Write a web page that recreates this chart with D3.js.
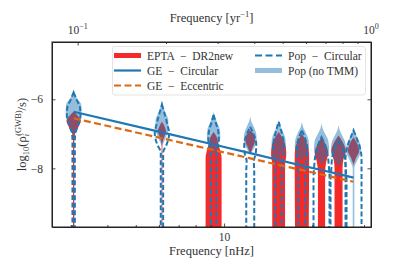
<!DOCTYPE html>
<html>
<head>
<meta charset="utf-8">
<script src="https://cdn.jsdelivr.net/npm/d3@7"></script>
<style>
  body { margin: 0; background: #fff; }
  svg { display: block; font-family: "Liberation Serif", "DejaVu Serif", serif; }
  .axis path { stroke: #222; stroke-width: 1; }
  .axis line { stroke: #222; stroke-width: 0.8; }
  .axis text { font-size: 11.5px; fill: #333; font-family: "Liberation Serif", serif; }
</style>
</head>
<body>
<div id="chart"></div>
<script>
var svgWidth = 393;
var svgHeight = 271;

var margin = { top: 42, right: 22, bottom: 44, left: 52 };
var width = svgWidth - margin.left - margin.right;
var height = svgHeight - margin.top - margin.bottom;

// frequency bins (nHz), i / T with T ~ 10.3 yr
var freqs = [3.07, 6.14, 9.21, 12.28, 15.35, 18.42, 21.49, 24.56, 27.63];

// GE model lines, log10(rho/s) at each bin
var geCircular = [-6.36, -6.96, -7.31, -7.56, -7.76, -7.92, -8.05, -8.17, -8.27];
var geEccentric = [-6.55, -7.13, -7.47, -7.71, -7.90, -8.05, -8.18, -8.29, -8.39];

// violin profiles: [log10 rho, relative half width]
var eptaViolins = [
  [[-6.35, 0], [-6.5, 0.6], [-6.62, 0.9], [-6.8, 0.6], [-7.05, 0.12], [-7.3, 0.08], [-9.9, 0.08]],
  [[-6.65, 0], [-6.8, 0.35], [-6.92, 0.5], [-7.05, 0.35], [-7.3, 0.05], [-9.9, 0.05]],
  [[-6.95, 0], [-7.1, 0.4], [-7.3, 0.6], [-7.5, 0.85], [-7.7, 1.0], [-9.9, 1.0]],
  [[-6.9, 0], [-7.05, 0.5], [-7.2, 0.6], [-7.4, 0.3], [-7.6, 0]],
  [[-6.95, 0], [-7.15, 0.55], [-7.4, 0.9], [-7.6, 0.95], [-7.9, 0.8], [-9.9, 0.8]],
  [[-7.0, 0], [-7.2, 0.5], [-7.45, 0.85], [-7.7, 0.9], [-9.9, 0.85]],
  [[-7.1, 0], [-7.3, 0.5], [-7.55, 0.85], [-7.8, 0.6], [-8.1, 0.45], [-9.9, 0.45]],
  [[-7.05, 0], [-7.25, 0.55], [-7.5, 0.9], [-7.75, 0.6], [-8.0, 0.5], [-9.9, 0.5]],
  [[-7.1, 0], [-7.3, 0.5], [-7.5, 0.7], [-7.7, 0.3], [-7.9, 0]]
];

var noTmmViolins = [
  [[-5.72, 0], [-5.85, 0.15], [-6.0, 0.5], [-6.15, 0.95], [-6.4, 1.0], [-6.65, 0.7], [-6.9, 0.3], [-7.1, 0]],
  [[-6.05, 0], [-6.2, 0.15], [-6.4, 0.45], [-6.6, 0.8], [-6.85, 0.8], [-7.1, 0.5], [-7.35, 0]],
  [[-6.35, 0], [-6.5, 0.15], [-6.65, 0.4], [-6.85, 0.75], [-7.1, 0.85], [-7.35, 0.5], [-7.6, 0]],
  [[-6.5, 0], [-6.65, 0.15], [-6.8, 0.45], [-7.0, 0.75], [-7.2, 0.8], [-7.45, 0.4], [-7.6, 0]],
  [[-6.6, 0], [-6.75, 0.15], [-6.9, 0.45], [-7.1, 0.8], [-7.3, 0.9], [-7.55, 0.5], [-7.75, 0]],
  [[-6.65, 0], [-6.8, 0.15], [-6.95, 0.45], [-7.15, 0.8], [-7.35, 0.9], [-7.6, 0.5], [-7.8, 0]],
  [[-6.7, 0], [-6.85, 0.15], [-7.0, 0.45], [-7.2, 0.85], [-7.45, 0.95], [-7.7, 0.55], [-7.9, 0]],
  [[-6.75, 0], [-6.9, 0.15], [-7.05, 0.45], [-7.25, 0.85], [-7.5, 0.95], [-7.75, 0.55], [-7.95, 0]],
  [[-6.8, 0], [-6.95, 0.15], [-7.1, 0.45], [-7.3, 0.85], [-7.5, 0.95], [-7.75, 0.5], [-8.0, 0.1], [-9.9, 0.1]]
];

var popViolins = [
  [[-5.8, 0], [-6.0, 0.35], [-6.25, 0.8], [-6.5, 0.85], [-6.75, 0.55], [-7.0, 0.2], [-7.2, 0.15], [-9.9, 0.15]],
  [[-6.15, 0], [-6.4, 0.3], [-6.7, 0.65], [-7.0, 0.9], [-7.3, 0.6], [-7.55, 0.15], [-9.9, 0.15]],
  [[-6.45, 0], [-6.7, 0.3], [-6.95, 0.6], [-7.2, 0.65], [-7.5, 0.4], [-7.8, 0.35], [-9.9, 0.35]],
  [[-6.8, 0], [-7.0, 0.4], [-7.3, 0.75], [-7.55, 0.7], [-7.8, 0.45], [-8.1, 0.5], [-9.9, 0.5]],
  [[-6.65, 0], [-6.9, 0.3], [-7.2, 0.6], [-7.5, 0.7], [-7.8, 0.45], [-8.1, 0.4], [-9.9, 0.4]],
  [[-6.9, 0], [-7.1, 0.35], [-7.4, 0.65], [-7.7, 0.6], [-8.0, 0.45], [-9.9, 0.45]],
  [[-7.1, 0], [-7.3, 0.4], [-7.6, 0.75], [-7.9, 0.9], [-8.3, 1.0], [-9.9, 1.0]],
  [[-7.2, 0], [-7.4, 0.45], [-7.7, 0.8], [-8.0, 0.9], [-8.4, 1.0], [-9.9, 1.0]],
  [[-6.9, 0], [-7.1, 0.35], [-7.4, 0.8], [-7.7, 1.0], [-8.1, 1.0], [-9.9, 1.0]]
];

var bottomTicks = [3, 4, 5, 6, 7, 8, 9, 10, 20, 30];
var topTicks = [0.1, 0.2, 0.3, 0.4, 0.5, 0.6, 0.7, 0.8, 0.9, 1];
var yTicks = [-8, -6];

var svg = d3.select("#chart")
  .append("svg")
  .attr("width", svgWidth)
  .attr("height", svgHeight);

var chartGroup = svg.append("g")
  .attr("transform", `translate(${margin.left}, ${margin.top})`);

var xScale = d3.scaleLog()
  .domain([2.59, 31.69])
  .range([0, width]);

// 1 yr^-1 = 31.69 nHz
var xTopScale = d3.scaleLog()
  .domain([2.59 / 31.69, 1])
  .range([0, width]);

var yScale = d3.scaleLinear()
  .domain([-9.7, -4.34])
  .range([height, 0]);

var wScale = d3.scaleLinear().domain([0, 1]).range([0, 8]);

chartGroup.append("clipPath")
  .attr("id", "clip")
  .append("rect")
  .attr("width", width)
  .attr("height", height);

var plot = chartGroup.append("g").attr("clip-path", "url(#clip)");

function violinArea(cx) {
  return d3.area()
    .y(d => yScale(d[0]))
    .x0(d => cx - wScale(d[1]))
    .x1(d => cx + wScale(d[1]))
    .curve(d3.curveMonotoneY);
}

// EPTA DR2new
plot.selectAll(".epta")
  .data(eptaViolins)
  .enter()
  .append("path")
  .attr("class", "epta")
  .attr("d", (d, i) => violinArea(xScale(freqs[i]))(d))
  .attr("fill", "#f42a2a");

// Pop (no TMM)
plot.selectAll(".notmm")
  .data(noTmmViolins)
  .enter()
  .append("path")
  .attr("class", "notmm")
  .attr("d", (d, i) => violinArea(xScale(freqs[i]))(d))
  .attr("fill", "#1f77b4")
  .attr("fill-opacity", 0.48);

// Pop - Circular
plot.selectAll(".pop")
  .data(popViolins)
  .enter()
  .append("path")
  .attr("class", "pop")
  .attr("d", (d, i) => violinArea(xScale(freqs[i]))(d))
  .attr("fill", "none")
  .attr("stroke", "#1f77b4")
  .attr("stroke-width", 2)
  .attr("stroke-dasharray", "5,2.5");

var lineGen = d3.line()
  .x((d, i) => xScale(freqs[i]))
  .y(d => yScale(d));

plot.append("path")
  .attr("d", lineGen(geEccentric))
  .attr("fill", "none")
  .attr("stroke", "#dd6a12")
  .attr("stroke-width", 2.2)
  .attr("stroke-dasharray", "7,3.5");

plot.append("path")
  .attr("d", lineGen(geCircular))
  .attr("fill", "none")
  .attr("stroke", "#1f77b4")
  .attr("stroke-width", 2.2);

// axes (ticks pointing in)
var bottomAxis = d3.axisBottom(xScale)
  .tickValues(bottomTicks)
  .tickSizeInner(-2)
  .tickSizeOuter(0)
  .tickPadding(6)
  .tickFormat(d => d === 10 ? "10" : "");

var bAx = chartGroup.append("g")
  .attr("class", "axis")
  .attr("transform", `translate(0, ${height})`)
  .call(bottomAxis);
bAx.selectAll(".tick line").attr("y2", d => d === 10 ? -3.5 : -2);

var topAxis = d3.axisTop(xTopScale)
  .tickValues(topTicks)
  .tickSizeInner(-2)
  .tickSizeOuter(0)
  .tickPadding(6)
  .tickFormat("");

var tAx = chartGroup.append("g")
  .attr("class", "axis")
  .call(topAxis);
tAx.selectAll(".tick line").attr("y2", d => (d === 0.1 || d === 1) ? 3.5 : 2);

[[0.1, "\u22121"], [1, "0"]].forEach(function(t) {
  var lab = chartGroup.append("text")
    .attr("x", xTopScale(t[0]))
    .attr("y", -8)
    .attr("text-anchor", "middle")
    .attr("font-size", 11.5)
    .attr("fill", "#333");
  lab.append("tspan").text("10");
  lab.append("tspan").attr("dy", -5).attr("font-size", 8).text(t[1]);
});

var leftAxis = d3.axisLeft(yScale)
  .tickValues(yTicks)
  .tickSizeInner(-3.5)
  .tickSizeOuter(0)
  .tickPadding(9)
  .tickFormat(d => "\u2212" + Math.abs(d));

chartGroup.append("g")
  .attr("class", "axis")
  .call(leftAxis);

var rightAxis = d3.axisRight(yScale)
  .tickValues(yTicks)
  .tickSizeInner(-3.5)
  .tickSizeOuter(0)
  .tickFormat("");

chartGroup.append("g")
  .attr("class", "axis")
  .attr("transform", `translate(${width}, 0)`)
  .call(rightAxis);

// frame
chartGroup.append("rect")
  .attr("width", width)
  .attr("height", height)
  .attr("fill", "none")
  .attr("stroke", "#222")
  .attr("stroke-width", 1);

// axis labels
chartGroup.append("text")
  .attr("x", width / 2)
  .attr("y", height + 28)
  .attr("text-anchor", "middle")
  .attr("font-size", 12.5)
  .attr("fill", "#333")
  .text("Frequency [nHz]");

var topLabel = chartGroup.append("text")
  .attr("x", width / 2)
  .attr("y", -20)
  .attr("text-anchor", "middle")
  .attr("font-size", 12.5)
  .attr("fill", "#333");
topLabel.append("tspan").text("Frequency [yr");
topLabel.append("tspan").attr("dy", -5).attr("font-size", 8.5).text("\u22121");
topLabel.append("tspan").attr("dy", 5).text("]");

var yLabel = svg.append("text")
  .attr("transform", `translate(26, ${margin.top + height / 2}) rotate(-90)`)
  .attr("text-anchor", "middle")
  .attr("font-size", 12.5)
  .attr("fill", "#333");
yLabel.append("tspan").text("log");
yLabel.append("tspan").attr("dy", 3).attr("font-size", 8.5).text("10");
yLabel.append("tspan").attr("dy", -3).text("(\u03c1");
yLabel.append("tspan").attr("dy", 3).attr("font-size", 8.5).attr("font-style", "italic").text("i");
yLabel.append("tspan").attr("dx", -2).attr("dy", -8).attr("font-size", 8.5).text("(GWB)");
yLabel.append("tspan").attr("dy", 5).text("/s)");

// legend
var legend = svg.append("g");
legend.append("rect")
  .attr("x", 112.5)
  .attr("y", 46.5)
  .attr("width", 253)
  .attr("height", 48.5)
  .attr("rx", 2.5)
  .attr("fill", "#fff")
  .attr("fill-opacity", 0.8)
  .attr("stroke", "#ddd")
  .attr("stroke-width", 0.8);

var legendItems = [
  { label: "EPTA  \u2212  DR2new", x: 114, y: 55.5, color: "#f42a2a", width: 5, dash: null, opacity: 1 },
  { label: "GE  \u2212  Circular", x: 114, y: 70.5, color: "#1f77b4", width: 2.2, dash: null, opacity: 1 },
  { label: "GE  \u2212  Eccentric", x: 114, y: 85.5, color: "#dd6a12", width: 2.2, dash: "7,3.5", opacity: 1 },
  { label: "Pop  \u2212  Circular", x: 255, y: 55.5, color: "#1f77b4", width: 2.2, dash: "7,3.5", opacity: 1 },
  { label: "Pop (no TMM)", x: 255, y: 70.5, color: "#1f77b4", width: 5, dash: null, opacity: 0.48 }
];

legendItems.forEach(function(d) {
  legend.append("line")
    .attr("x1", d.x)
    .attr("x2", d.x + 27)
    .attr("y1", d.y)
    .attr("y2", d.y)
    .attr("stroke", d.color)
    .attr("stroke-width", d.width)
    .attr("stroke-opacity", d.opacity)
    .attr("stroke-dasharray", d.dash);
  legend.append("text")
    .attr("x", d.x + 33)
    .attr("y", d.y + 4)
    .attr("font-size", 11.5)
    .attr("fill", "#333")
    .attr("xml:space", "preserve")
    .style("white-space", "pre")
    .text(d.label);
});
</script>
</body>
</html>
